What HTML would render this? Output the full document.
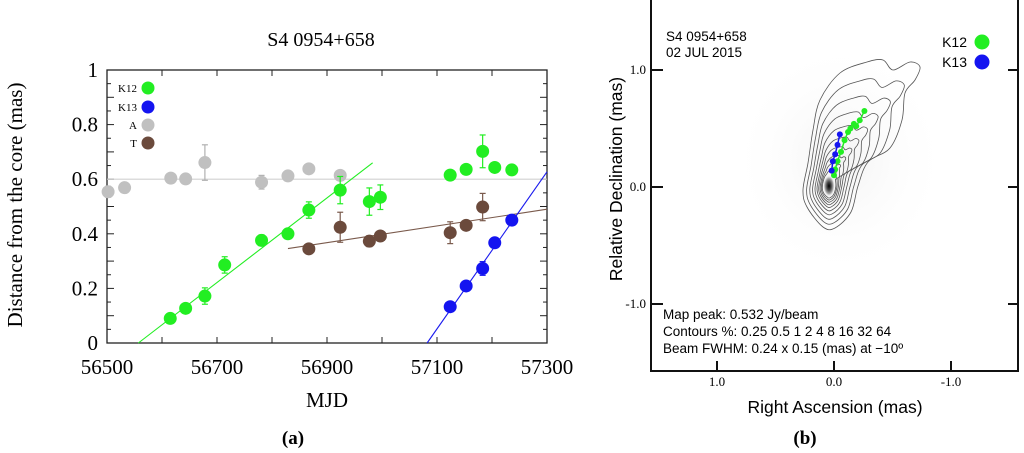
<!DOCTYPE html>
<html><head><meta charset="utf-8"><style>
html,body{margin:0;padding:0;background:#fff;}
svg{display:block;}
.serif{font-family:"Liberation Serif",serif;}
.sans{font-family:"Liberation Sans","DejaVu Sans",sans-serif;}
</style></head><body>
<svg id="fig" width="1024" height="453" viewBox="0 0 1024 453" xmlns="http://www.w3.org/2000/svg">
<g id="left"></g>
<g id="right"></g>
</svg>
<script>
// ---- Panel (a) data ----
const k12Mjd = [56615,56643,56678,56714,56781,56829,56867,56924,56977,56997,57124,57153,57183,57205,57236];
const k12Dist = [0.090,0.127,0.172,0.286,0.376,0.400,0.487,0.560,0.518,0.534,0.615,0.636,0.702,0.643,0.634];
const k12Err = [0.01,0.01,0.03,0.03,0.02,0.01,0.03,0.05,0.05,0.045,0.01,0.01,0.06,0.01,0.01];
const k13Mjd = [57124,57153,57183,57205,57236];
const k13Dist = [0.133,0.209,0.273,0.367,0.450];
const k13Err = [0.01,0.01,0.025,0.01,0.01];
const aMjd = [56502,56532,56616,56643,56678,56781,56829,56867,56924];
const aDist = [0.554,0.569,0.604,0.601,0.661,0.589,0.612,0.638,0.614];
const aErr = [0.02,0,0,0,0.065,0.025,0,0,0];
const tMjd = [56867,56924,56977,56997,57124,57153,57183];
const tDist = [0.345,0.424,0.373,0.392,0.404,0.431,0.498];
const tErr = [0,0.055,0.02,0,0.04,0,0.05];
const fitK12 = [[56557,0],[56983,0.660]];
const fitA = [[56500,0.6],[57300,0.6]];
const fitT = [[56829,0.346],[57300,0.490]];
const fitK13 = [[57082,0],[57300,0.627]];
const xTicks = [56500,56700,56900,57100,57300];
const yTicks = [0,0.2,0.4,0.6,0.8,1];
const yTickLabels = ["0","0.2","0.4","0.6","0.8","1"];

// ---- Panel (b) data ----
const mapK12Ra = [0.00,-0.01,-0.03,-0.06,-0.09,-0.12,-0.14,-0.17,-0.19,-0.22,-0.26];
const mapK12Dec = [0.10,0.15,0.22,0.30,0.40,0.47,0.50,0.54,0.52,0.57,0.65];
const mapK13Ra = [0.02,0.01,-0.01,-0.03,-0.05];
const mapK13Dec = [0.14,0.22,0.28,0.36,0.45];
const raTicks = [1.0,0.0,-1.0];
const raTickLabels = ["1.0","0.0","-1.0"];
const decTicks = [1.0,0.0,-1.0];
const decTickLabels = ["1.0","0.0","-1.0"];

const NS="http://www.w3.org/2000/svg";
function mk(tag,attrs,parent,text){const e=document.createElementNS(NS,tag);for(const k in attrs)e.setAttribute(k,attrs[k]);if(text!==undefined)e.textContent=text;parent.appendChild(e);return e;}

// ---- Panel (a) ----
const L=document.getElementById('left');
const X0=107,X1=547,Y0=343,Y1=70;
const sx=v=>X0+(v-56500)/800*(X1-X0);
const sy=v=>Y0-v*(Y0-Y1);
let t;
t=mk('text',{x:321,y:46,'text-anchor':'middle','font-size':20,class:'serif'},L,'S4 0954+658');

let frame=mk('rect',{x:X0,y:Y1,width:X1-X0,height:Y0-Y1,fill:'none',stroke:'#222','stroke-width':1.3},L);

for(let v=56500;v<=57300;v+=100){const x=sx(v);const len=6;
 if(v>56500&&v<57300){mk('line',{x1:x,x2:x,y1:Y0,y2:Y0-len,stroke:'#222'},L);mk('line',{x1:x,x2:x,y1:Y1,y2:Y1+len,stroke:'#222'},L);}}
for(let i=1;i<20;i++){const v=i*0.05;const y=sy(v);const len=i%2===0?7:4;
 mk('line',{x1:X0,x2:X0+len,y1:y,y2:y,stroke:'#222'},L);mk('line',{x1:X1,x2:X1-len,y1:y,y2:y,stroke:'#222'},L);}
xTicks.forEach(v=>{t=mk('text',{x:sx(v),y:374,'text-anchor':'middle','font-size':21,class:'serif'},L,String(v));
 });
yTicks.forEach((v,i)=>{t=mk('text',{x:X0-9,y:sy(v)+7,'text-anchor':'end','font-size':21,class:'serif'},L,yTickLabels[i]);
 });
t=mk('text',{x:327,y:407,'text-anchor':'middle','font-size':21,class:'serif'},L,'MJD');

t=mk('text',{x:0,y:0,'text-anchor':'middle','font-size':21,class:'serif',transform:'translate(22,205) rotate(-90)'},L,'Distance from the core (mas)');

t=mk('text',{x:293,y:444,'text-anchor':'middle','font-size':19,'font-weight':'bold',class:'serif'},L,'(a)');

function fit(p,c,name){const l=mk('line',{x1:sx(p[0][0]),y1:sy(p[0][1]),x2:sx(p[1][0]),y2:sy(p[1][1]),stroke:c,'stroke-width':1.1},L);
 }
fit(fitA,'#d0d0d0','fit-line-a');fit(fitK12,'#22ee22','fit-line-k12');fit(fitT,'#7a5a4c','fit-line-t');fit(fitK13,'#1a1aee','fit-line-k13');
function series(xs,ys,es,c,ec,name){const g=mk('g',{},L);
 xs.forEach((x,i)=>{const cx=sx(x),cy=sy(ys[i]);
  if(es[i]>0){const a=sy(ys[i]+es[i]),b=sy(ys[i]-es[i]);
   mk('line',{x1:cx,x2:cx,y1:a,y2:b,stroke:ec,'stroke-width':1.2},g);mk('line',{x1:cx-3,x2:cx+3,y1:a,y2:a,stroke:ec,'stroke-width':1.2},g);mk('line',{x1:cx-3,x2:cx+3,y1:b,y2:b,stroke:ec,'stroke-width':1.2},g);}
  const p=mk('circle',{cx:cx,cy:cy,r:6.5,fill:c},g);});}
series(aMjd,aDist,aErr,'#c0c0c0','#b0b0b0','a');
series(tMjd,tDist,tErr,'#6b4a3c','#7a5a4c','t');
series(k12Mjd,k12Dist,k12Err,'#22ee22','#22ee22','k12');
series(k13Mjd,k13Dist,k13Err,'#1414f0','#1414f0','k13');
const leg=[['K12','#22ee22',88],['K13','#1414f0',107],['A','#c0c0c0',125],['T','#6b4a3c',143]];
leg.forEach(d=>{const g=mk('g',{},L);
 mk('text',{x:137,y:d[2]+4,'text-anchor':'end','font-size':11,class:'serif'},g,d[0]);mk('circle',{cx:148,cy:d[2],r:6.5,fill:d[1]},g);});

// ---- Panel (b) ----
const R=document.getElementById('right');
const RX0=651,RX1=1018,RY1=-5,RY0=371;
const rx=v=>834-v*117;
const ry=v=>187-v*117;
const defs=mk('defs',{},R);
const rg=mk('radialGradient',{id:'core',cx:'0.5',cy:'0.5',r:'0.5'},defs);
mk('stop',{offset:'0','stop-color':'#000'},rg);mk('stop',{offset:'0.35','stop-color':'#444'},rg);mk('stop',{offset:'0.7','stop-color':'#aaa'},rg);mk('stop',{offset:'1','stop-color':'#fff','stop-opacity':'0'},rg);
const rg2=mk('radialGradient',{id:'halo',cx:'0.5',cy:'0.5',r:'0.5'},defs);
mk('stop',{offset:'0','stop-color':'#ddd'},rg2);mk('stop',{offset:'1','stop-color':'#fff','stop-opacity':'0'},rg2);
const outer=[[823,227],[807,207],[803,190],[808,163],[813,130],[820,100],[840,73],[867,62],[883,60],[893,70],[910,62],[920,67],[915,80],[905,93],[902,120],[890,148],[868,162],[858,186],[851,212],[835,228]];
const cg=mk('g',{},R);
mk('ellipse',{cx:840,cy:160,rx:110,ry:120,fill:'url(#halo)',opacity:0.35},cg);
const CX=829,CY=186;
function smooth(pts){const n=pts.length;let d='M'+pts[0][0].toFixed(1)+','+pts[0][1].toFixed(1);
 for(let i=0;i<n;i++){const p0=pts[(i-1+n)%n],p1=pts[i],p2=pts[(i+1)%n],p3=pts[(i+2)%n];
  const c1=[p1[0]+(p2[0]-p0[0])/6,p1[1]+(p2[1]-p0[1])/6],c2=[p2[0]-(p3[0]-p1[0])/6,p2[1]-(p3[1]-p1[1])/6];
  d+=` C${c1[0].toFixed(1)},${c1[1].toFixed(1)} ${c2[0].toFixed(1)},${c2[1].toFixed(1)} ${p2[0].toFixed(1)},${p2[1].toFixed(1)}`;}
 return d+'Z';}
const weights=[1,0.82,0.66,0.52,0.40,0.30,0.22,0.15,0.09,0.04];
weights.forEach((w,i)=>{
 const pts=outer.map(p=>{const ang=Math.atan2(p[1]-CY,p[0]-CX);
  const ex=CX+6*Math.cos(ang), ey=CY+10*Math.sin(ang);
  return [ex+(p[0]-ex)*w, ey+(p[1]-ey)*Math.pow(w,0.9)];});
 const pth=mk('path',{d:smooth(pts),fill:'none',stroke:'#555','stroke-width':0.8},cg);});
mk('ellipse',{cx:829,cy:186,rx:6,ry:11,fill:'url(#core)'},cg);
function track(xs,ys,c,name){const g=mk('g',{},R);
 mk('polyline',{points:xs.map((x,i)=>rx(x)+','+ry(ys[i])).join(' '),fill:'none',stroke:c,'stroke-width':1.5},g);
 xs.forEach((x,i)=>{const p=mk('circle',{cx:rx(x),cy:ry(ys[i]),r:3,fill:c},g);});}
track(mapK12Ra,mapK12Dec,'#22ee22','k12');
track(mapK13Ra,mapK13Dec,'#1414f0','k13');
const rf=mk('path',{d:`M${RX0},${RY1} L${RX0},${RY0} L${RX1},${RY0} L${RX1},${RY1}`,fill:'none',stroke:'#111','stroke-width':2},R);

raTicks.forEach((v,i)=>{const x=rx(v);mk('line',{x1:x,x2:x,y1:RY0,y2:RY0-10,stroke:'#111','stroke-width':2},R);
 t=mk('text',{x:x,y:RY0+15,'text-anchor':'middle','font-size':13,class:'serif'},R,raTickLabels[i]);});
decTicks.forEach((v,i)=>{const y=ry(v);mk('line',{x1:RX0,x2:RX0+12,y1:y,y2:y,stroke:'#111','stroke-width':2},R);mk('line',{x1:RX1,x2:RX1-10,y1:y,y2:y,stroke:'#111','stroke-width':2},R);
 t=mk('text',{x:RX0-5,y:y+4,'text-anchor':'end','font-size':13,class:'serif'},R,decTickLabels[i]);});
t=mk('text',{x:835,y:413,'text-anchor':'middle','font-size':17.5,class:'sans'},R,'Right Ascension  (mas)');
t=mk('text',{x:0,y:0,'text-anchor':'middle','font-size':17.5,class:'sans',transform:'translate(622,179) rotate(-90)'},R,'Relative Declination  (mas)');
t=mk('text',{x:666,y:41,'font-size':13.5,class:'sans'},R,'S4 0954+658');
t=mk('text',{x:666,y:57,'font-size':13.5,class:'sans'},R,'02 JUL 2015');
[['K12','#22ee22',42],['K13','#1414f0',62]].forEach(d=>{const g=mk('g',{},R);
 mk('text',{x:967,y:d[2]+5,'text-anchor':'end','font-size':14,class:'sans'},g,d[0]);mk('circle',{cx:982,cy:d[2],r:7.5,fill:d[1]},g);});
['Map peak: 0.532 Jy/beam','Contours %: 0.25 0.5 1 2 4 8 16 32 64','Beam FWHM: 0.24 x 0.15 (mas) at \u221210\u00ba'].forEach((s,i)=>{
 t=mk('text',{x:663,y:319+i*17,'font-size':13.5,class:'sans'},R,s);});
t=mk('text',{x:805,y:444,'text-anchor':'middle','font-size':19,'font-weight':'bold',class:'serif'},R,'(b)');
</script>
</body></html>
